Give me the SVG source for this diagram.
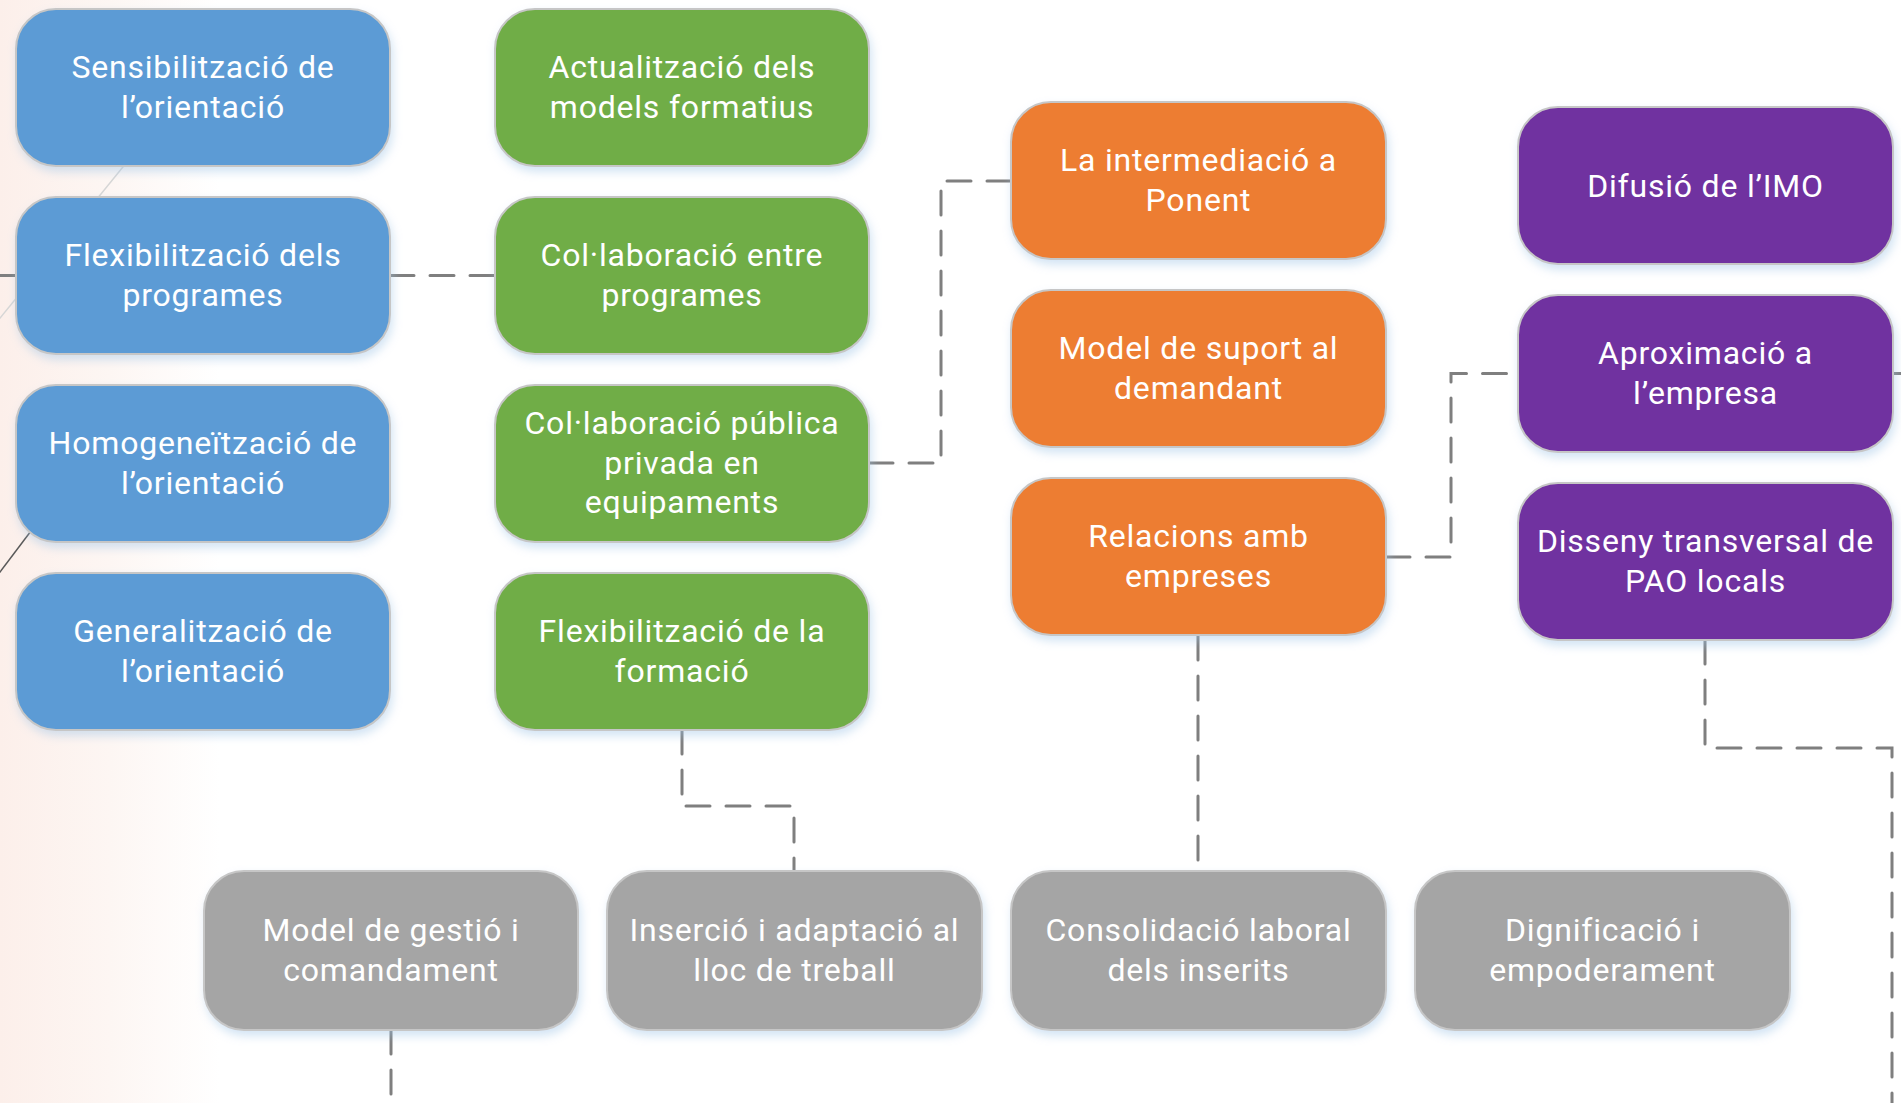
<svg xmlns="http://www.w3.org/2000/svg" width="1901" height="1103" viewBox="0 0 1901 1103">
<defs>
<linearGradient id="bg" x1="0" y1="0" x2="1" y2="0">
<stop offset="0" stop-color="#FCEFEA"/>
<stop offset="0.5" stop-color="#FDF6F3"/>
<stop offset="1" stop-color="#FFFFFF"/>
</linearGradient>
<filter id="sh" x="-10%" y="-10%" width="125%" height="130%">
<feDropShadow dx="2" dy="5" stdDeviation="5" flood-color="#9DC3E6" flood-opacity="0.45"/>
</filter>
</defs>
<style>
.box{stroke:#C6C6C6;stroke-width:2;filter:url(#sh)}
.blue{fill:#5B9BD5}.green{fill:#70AD47}.orange{fill:#ED7D31}.purple{fill:#7030A0}.gray{fill:#A5A5A5}
text{font-family:Roboto,"Liberation Sans",sans-serif;font-size:32px;fill:#FFFFFF;text-anchor:middle;letter-spacing:0.8px}
.dash{fill:none;stroke:#7F7F7F;stroke-width:3;stroke-dasharray:24 16;stroke-linecap:round}
.solid{fill:none;stroke:#7F7F7F;stroke-width:3}
</style>
<rect x="0" y="0" width="1901" height="1103" fill="#FFFFFF"/>
<rect x="0" y="0" width="220" height="1103" fill="url(#bg)"/>
<g id="background-lines">
<line x1="140" y1="146" x2="-8" y2="328" stroke="#D6D6D6" stroke-width="1.5"/>
<line x1="34" y1="527" x2="-6" y2="580" stroke="#595959" stroke-width="1.5"/>
</g>
<g id="connectors">
<path class="solid" d="M0,275.5 H16"/>
<path class="solid" d="M1893,373.5 H1901"/>
<path class="dash" d="M390,275.5 H495"/>
<path class="dash" d="M869,463 H941 V181 H1011"/>
<path class="dash" d="M682,730 V806 H794 V871"/>
<path class="dash" d="M1198,636 V871"/>
<path class="dash" d="M1386,557 H1451 V373.5 H1518"/>
<path class="dash" d="M1705,640 V748 H1892 V1103"/>
<path class="dash" d="M391,1030 V1103"/>
</g>
<g id="n-sensibilitzacio"><rect class="box blue" x="16" y="9" width="374" height="157" rx="40"/><text x="203" y="78">Sensibilització de</text><text x="203" y="117.5">l’orientació</text></g>
<g id="n-flexibilitzacio-programes"><rect class="box blue" x="16" y="197" width="374" height="157" rx="40"/><text x="203" y="266">Flexibilització dels</text><text x="203" y="305.5">programes</text></g>
<g id="n-homogeneitzacio"><rect class="box blue" x="16" y="385" width="374" height="157" rx="40"/><text x="203" y="454">Homogeneïtzació de</text><text x="203" y="493.5">l’orientació</text></g>
<g id="n-generalitzacio"><rect class="box blue" x="16" y="573" width="374" height="157" rx="40"/><text x="203" y="642">Generalització de</text><text x="203" y="681.5">l’orientació</text></g>
<g id="n-actualitzacio"><rect class="box green" x="495" y="9" width="374" height="157" rx="40"/><text x="682" y="78">Actualització dels</text><text x="682" y="117.5">models formatius</text></g>
<g id="n-collaboracio-programes"><rect class="box green" x="495" y="197" width="374" height="157" rx="40"/><text x="682" y="266">Col·laboració entre</text><text x="682" y="305.5">programes</text></g>
<g id="n-collaboracio-publica"><rect class="box green" x="495" y="385" width="374" height="157" rx="40"/><text x="682" y="434">Col·laboració pública</text><text x="682" y="473.5">privada en</text><text x="682" y="513">equipaments</text></g>
<g id="n-flexibilitzacio-formacio"><rect class="box green" x="495" y="573" width="374" height="157" rx="40"/><text x="682" y="642">Flexibilització de la</text><text x="682" y="681.5">formació</text></g>
<g id="n-intermediacio"><rect class="box orange" x="1011" y="102" width="375" height="157" rx="40"/><text x="1198.5" y="171">La intermediació a</text><text x="1198.5" y="210.5">Ponent</text></g>
<g id="n-suport"><rect class="box orange" x="1011" y="290" width="375" height="157" rx="40"/><text x="1198.5" y="359">Model de suport al</text><text x="1198.5" y="398.5">demandant</text></g>
<g id="n-relacions"><rect class="box orange" x="1011" y="478" width="375" height="157" rx="40"/><text x="1198.5" y="547">Relacions amb</text><text x="1198.5" y="586.5">empreses</text></g>
<g id="n-difusio"><rect class="box purple" x="1518" y="107" width="375" height="157" rx="40"/><text x="1705.5" y="197">Difusió de l’IMO</text></g>
<g id="n-aproximacio"><rect class="box purple" x="1518" y="295" width="375" height="157" rx="40"/><text x="1705.5" y="364">Aproximació a</text><text x="1705.5" y="403.5">l’empresa</text></g>
<g id="n-disseny"><rect class="box purple" x="1518" y="483" width="375" height="157" rx="40"/><text x="1705.5" y="552">Disseny transversal de</text><text x="1705.5" y="591.5">PAO locals</text></g>
<g id="n-gestio"><rect class="box gray" x="204" y="871" width="374" height="159" rx="40"/><text x="391" y="941">Model de gestió i</text><text x="391" y="980.5">comandament</text></g>
<g id="n-insercio"><rect class="box gray" x="607" y="871" width="375" height="159" rx="40"/><text x="794.5" y="941">Inserció i adaptació al</text><text x="794.5" y="980.5">lloc de treball</text></g>
<g id="n-consolidacio"><rect class="box gray" x="1011" y="871" width="375" height="159" rx="40"/><text x="1198.5" y="941">Consolidació laboral</text><text x="1198.5" y="980.5">dels inserits</text></g>
<g id="n-dignificacio"><rect class="box gray" x="1415" y="871" width="375" height="159" rx="40"/><text x="1602.5" y="941">Dignificació i</text><text x="1602.5" y="980.5">empoderament</text></g>
</svg>
